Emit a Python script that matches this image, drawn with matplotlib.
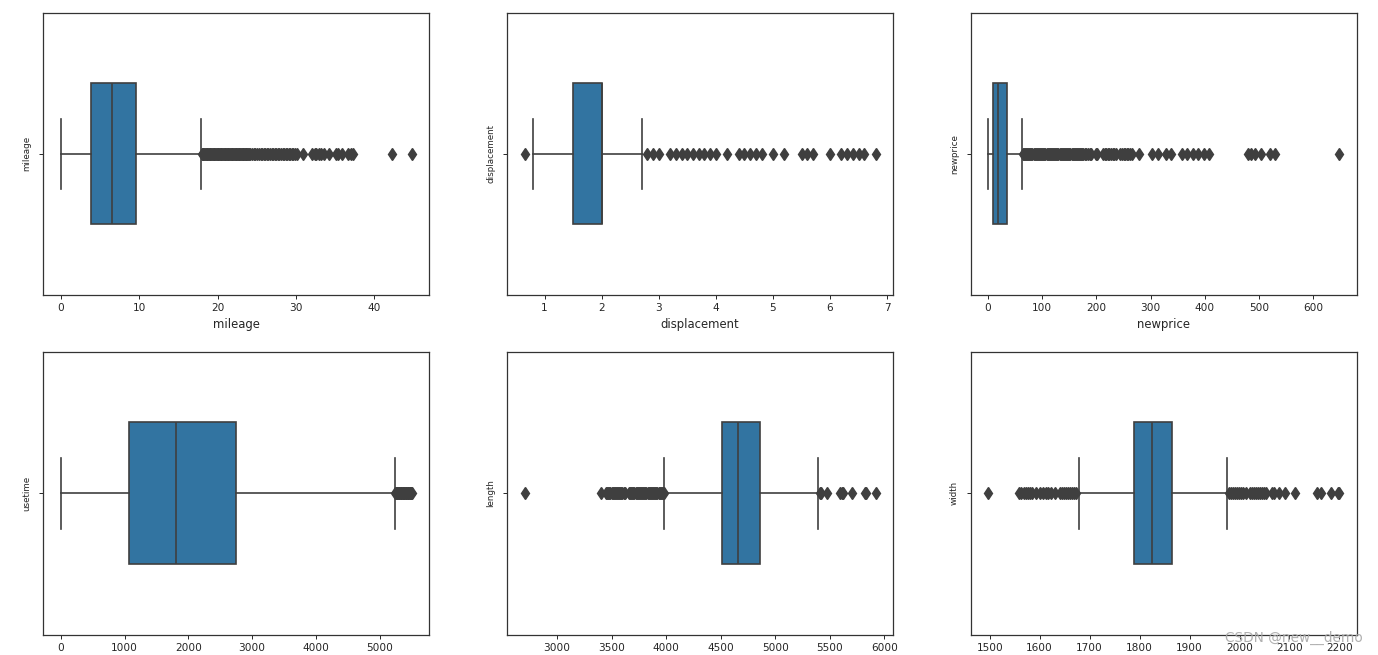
import matplotlib
matplotlib.use("Agg")
import matplotlib.pyplot as plt

# ---------------- data ----------------
names = ["mileage", "displacement", "newprice", "usetime", "length", "width"]
show_xlabel = [True, True, True, False, False, False]

q1 = [3.86, 1.5, 10.0, 1068, 4512, 1788]
med = [6.57, 2.0, 18.4, 1807, 4662, 1824]
q3 = [9.62, 2.0, 34.3, 2750, 4864, 1865]
whislo = [0.0, 0.8, 0.5, 0, 3983, 1678]
whishi = [17.9, 2.7, 63.2, 5245, 5388, 1974]

fliers_mileage = [18.0, 18.1, 18.2, 18.3, 18.4, 18.5, 18.6, 18.7, 18.8, 18.9, 19.0,
                  19.1, 19.2, 19.3, 19.4, 19.5, 19.6, 19.7, 19.8, 19.9, 20.0, 20.1,
                  20.2, 20.3, 20.4, 20.5, 20.6, 20.7, 20.8, 20.9, 21.0, 21.1, 21.2,
                  21.3, 21.4, 21.5, 21.6, 21.7, 21.8, 21.9, 22.0, 22.1, 22.2, 22.3,
                  22.4, 22.5, 22.6, 22.7, 22.8, 22.9, 23.0, 23.1, 23.2, 23.3, 23.4,
                  23.5, 23.6, 23.7, 23.8, 23.9, 24.0, 24.2, 24.4, 24.6, 24.8, 25.0,
                  25.3, 25.5, 25.7, 25.9, 26.1, 26.3, 26.5, 26.7, 26.9, 27.1, 27.3,
                  27.5, 27.7, 27.9, 28.1, 28.3, 28.5, 28.7, 28.9, 29.1, 29.3, 29.5,
                  29.7, 29.9, 30.1, 30.9, 32.1, 32.4, 32.6, 33.0, 33.2, 33.6, 34.2,
                  35.1, 35.4, 35.9, 36.6, 37.1, 37.3, 42.3, 44.8]
fliers_displacement = [0.65, 2.8, 2.9, 3.0, 3.2, 3.3, 3.4, 3.5, 3.6, 3.7, 3.8, 3.9,
                       4.0, 4.2, 4.4, 4.5, 4.6, 4.7, 4.8, 5.0, 5.2, 5.5, 5.6, 5.7,
                       6.0, 6.2, 6.3, 6.4, 6.5, 6.6, 6.8]
fliers_newprice = [64, 66, 68, 70, 72, 74, 76, 78, 80, 82, 84, 86, 88, 90, 92, 94,
                   96, 98, 100, 102, 104, 106, 108, 110, 112, 114, 116, 118, 120,
                   122, 124, 126, 128, 130, 132, 134, 136, 138, 140, 142, 144, 146,
                   148, 150, 152, 154, 156, 158, 160, 162, 164, 166, 168, 170, 172,
                   174, 176, 178, 180, 184, 188, 190, 199, 201, 212, 215, 218, 221,
                   224, 227, 230, 233, 236, 244, 247, 250, 253, 256, 259, 262, 265,
                   278, 303, 313, 328, 337, 357, 367, 378, 388, 398, 407, 479, 485,
                   492, 503, 520, 530, 648]
fliers_usetime = [5250, 5260, 5270, 5280, 5290, 5300, 5310, 5320, 5330, 5340, 5350,
                  5360, 5370, 5380, 5390, 5400, 5410, 5420, 5430, 5440, 5450, 5460,
                  5470, 5480, 5490, 5500, 5505]
fliers_length = [2703, 3400, 3450, 3460, 3470, 3480, 3490, 3500, 3510, 3520, 3530,
                 3540, 3550, 3560, 3570, 3580, 3590, 3600, 3610, 3620, 3660, 3670,
                 3680, 3690, 3700, 3710, 3720, 3730, 3740, 3750, 3760, 3770, 3780,
                 3790, 3800, 3810, 3820, 3830, 3840, 3850, 3860, 3870, 3880, 3890,
                 3900, 3910, 3920, 3930, 3940, 3950, 3960, 3970, 3980, 5406, 5420,
                 5474, 5596, 5610, 5620, 5703, 5825, 5835, 5920]
fliers_width = [1497, 1559, 1563, 1568, 1572, 1576, 1580, 1585, 1592, 1600, 1606,
                1612, 1617, 1622, 1630, 1640, 1644, 1648, 1652, 1656, 1660, 1664,
                1668, 1672, 1979, 1983, 1987, 1991, 1995, 1999, 2003, 2007, 2012,
                2020, 2024, 2028, 2032, 2036, 2040, 2044, 2048, 2052, 2064, 2068,
                2079, 2092, 2112, 2155, 2163, 2183, 2197, 2200]
fliers = [fliers_mileage, fliers_displacement, fliers_newprice,
          fliers_usetime, fliers_length, fliers_width]

# ---------------- layout ----------------
W, H = 1378, 655
fig = plt.figure(figsize=(W / 100, H / 100), dpi=100)
col_px = [(43.3, 429.3), (507.0, 893.3), (970.7, 1357.0)]
row_px = [(12.7, 295.0), (351.7, 634.7)]

box_color = "#3274a1"
line_color = "#3f3f3f"

for i, name in enumerate(names):
    r, c = divmod(i, 3)
    x0, x1 = col_px[c]
    yt, yb = row_px[r]
    ax = fig.add_axes([x0 / W, 1 - yb / H, (x1 - x0) / W, (yb - yt) / H])
    stats = [dict(q1=q1[i], med=med[i], q3=q3[i], whislo=whislo[i],
                  whishi=whishi[i], fliers=fliers[i], label=name)]
    ax.bxp(stats, positions=[0], widths=0.5, orientation="horizontal",
           patch_artist=True, manage_ticks=False,
           boxprops=dict(facecolor=box_color, edgecolor=line_color, linewidth=1.2),
           medianprops=dict(color=line_color, linewidth=1.2),
           whiskerprops=dict(color=line_color, linewidth=1.2),
           capprops=dict(color=line_color, linewidth=1.2),
           flierprops=dict(marker="d", markerfacecolor=line_color,
                           markeredgecolor=line_color, markersize=6.5,
                           linestyle="none"))
    ax.set_ylim(0.5, -0.5)
    ax.set_yticks([0])
    ax.set_yticklabels([""])
    ax.tick_params(axis="x", labelsize=7.6, length=3, width=0.7, colors="#262626",
                   pad=3)
    ax.tick_params(axis="y", length=3, width=0.7, colors="#262626")
    ax.set_ylabel(name, fontsize=6.3, color="#262626", labelpad=2)
    if show_xlabel[i]:
        ax.set_xlabel(name, fontsize=8.4, color="#262626", labelpad=3.5)
    for s in ax.spines.values():
        s.set_linewidth(0.9)
        s.set_color("#333333")

fig.text(1363 / W, 1 - 638 / H, "CSDN @new__demo", ha="right", va="center",
         fontsize=9.8, color="#a8a8a8", alpha=0.9)

fig.savefig("out.png", dpi=100)
